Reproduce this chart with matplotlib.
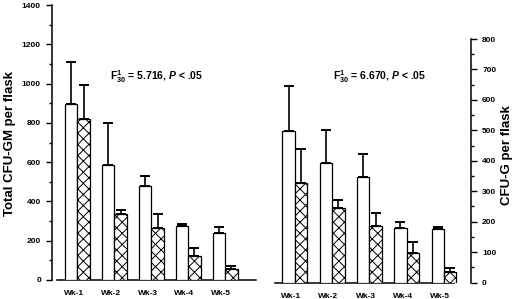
import matplotlib
matplotlib.use("Agg")
import matplotlib.pyplot as plt
import numpy as np

plt.rcParams["font.family"] = "Liberation Sans"
plt.rcParams["font.weight"] = "bold"
plt.rcParams["mathtext.fontset"] = "custom"
plt.rcParams["mathtext.rm"] = "Liberation Sans:bold"
plt.rcParams["mathtext.it"] = "Liberation Sans:bold:italic"
plt.rcParams["mathtext.default"] = "rm"
plt.rcParams["hatch.linewidth"] = 0.7

weeks = ["Wk-1", "Wk-2", "Wk-3", "Wk-4", "Wk-5"]

# CFU-GM (left panel)
gm_open = [897, 585, 479, 275, 240]
gm_open_err = [215, 215, 50, 8, 30]
gm_hatch = [820, 335, 267, 122, 56]
gm_hatch_err = [174, 21, 67, 39, 17]

# CFU-G (right panel)
g_open = [499, 394, 347, 180, 176]
g_open_err = [146, 106, 74, 20, 6]
g_hatch = [328, 245, 186, 98, 33]
g_hatch_err = [111, 25, 41, 36, 15]

W, H = 520, 299
fig = plt.figure(figsize=(W / 100, H / 100), dpi=100)


def px_axes(x0, x1, ytop, ybot):
    return fig.add_axes([x0 / W, 1 - ybot / H, (x1 - x0) / W, (ybot - ytop) / H])


def draw(ax, open_v, open_e, hatch_v, hatch_e, bw):
    x = np.arange(len(weeks))
    ax.bar(x - bw / 2, open_v, bw, color="white", edgecolor="black", linewidth=0.9, zorder=3)
    ax.bar(x + bw / 2, hatch_v, bw, color="white", edgecolor="black", linewidth=0.9,
           hatch="xxx", zorder=3)
    for xs, v, e in [(x - bw / 2, open_v, open_e), (x + bw / 2, hatch_v, hatch_e)]:
        ax.errorbar(xs, v, yerr=[np.zeros(len(e)), e], fmt="none", ecolor="black",
                    elinewidth=1.2, capsize=3.6, capthick=1.4, zorder=2)
    ax.set_xticks(x - 0.1)
    ax.set_xticklabels(weeks, fontsize=6, fontweight="bold")
    ax.tick_params(axis="x", length=0, pad=7.5)
    ax.spines["top"].set_visible(False)
    for s in ax.spines.values():
        s.set_linewidth(1.1)


# left panel
ax1 = px_axes(52, 260, 5, 280)
draw(ax1, gm_open, gm_open_err, gm_hatch, gm_hatch_err, 0.339)
ax1.set_xlim(-0.691, 4.946)
ax1.set_ylim(0, 1400)
ax1.spines["right"].set_visible(False)
ax1.spines["bottom"].set_bounds(-0.556, 4.837)
ax1.set_yticks(np.arange(0, 1401, 200))
ax1.set_yticks(np.arange(100, 1400, 200), minor=True)
ax1.tick_params(axis="y", which="major", length=4, width=1.0, labelsize=6, pad=4)
ax1.tick_params(axis="y", which="minor", length=2.5, width=1.0)

# right panel
ax2 = px_axes(275, 471, 39, 282.5)
draw(ax2, g_open, g_open_err, g_hatch, g_hatch_err, 0.335)
ax2.set_xlim(-0.531, 4.724)
ax2.set_ylim(0, 800)
ax2.spines["left"].set_visible(False)
ax2.spines["bottom"].set_bounds(-0.531, 4.268)
ax2.yaxis.tick_right()
ax2.set_yticks(np.arange(0, 801, 100))
ax2.set_yticks(np.arange(50, 800, 100), minor=True)
ax2.tick_params(axis="y", which="major", length=4, width=1.0, labelsize=6, pad=4)
ax2.tick_params(axis="y", which="minor", length=2.5, width=1.0)

fig.text(10 / W, 1 - 143 / H, "Total CFU-GM per flask", rotation=90, fontsize=9.5,
         fontweight="bold", ha="center", va="center")
fig.text(507 / W, 1 - 155 / H, "CFU-G per flask", rotation=90, fontsize=9.5,
         fontweight="bold", ha="center", va="center")
fig.text(110 / W, 1 - 77 / H, r"F$^{1}_{30}$ = 5.716, $\mathit{P}$ < .05", fontsize=7.5,
         fontweight="bold", va="center")
fig.text(333 / W, 1 - 77 / H, r"F$^{1}_{30}$ = 6.670, $\mathit{P}$ < .05", fontsize=7.5,
         fontweight="bold", va="center")

fig.savefig("out.png", dpi=100)
